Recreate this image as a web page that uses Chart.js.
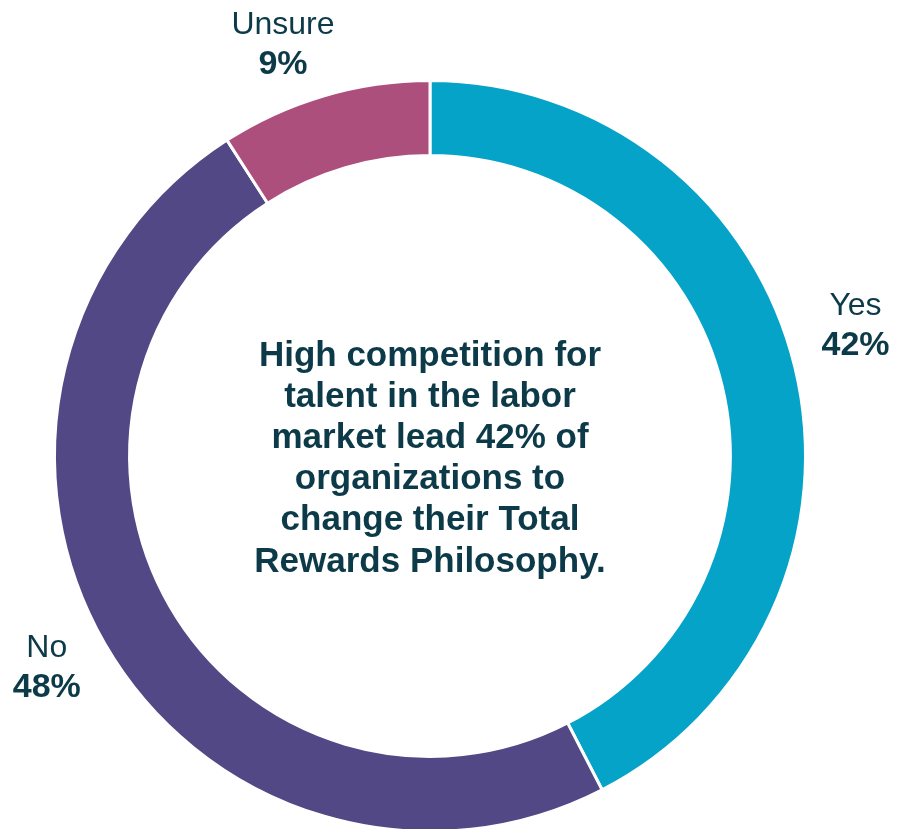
<!DOCTYPE html>
<html>
<head>
<meta charset="utf-8">
<script src="https://cdn.jsdelivr.net/npm/chart.js@4/dist/chart.umd.min.js"></script>
<style>
  html, body { margin: 0; padding: 0; background: #fff; overflow: hidden; }
  #wrap { position: relative; width: 900px; height: 912px; }
</style>
</head>
<body>
<div id="wrap"><canvas id="rewardsChart" width="900" height="912"></canvas></div>
<script>
const categories = ['Yes', 'No', 'Unsure'];
const shares = [42, 48, 9];
const sliceColors = ['#05A3C7', '#534886', '#AD4F7D'];
const centerLines = [
  'High competition for',
  'talent in the labor',
  'market lead 42% of',
  'organizations to',
  'change their Total',
  'Rewards Philosophy.'
];

const textColor = '#0C3A48';
const fontFamily = '"Liberation Sans", Arial, sans-serif';

// per-slice nudge of the outside label: [extra radius, extra angle in degrees]
const labelNudge = [[0, -2.3], [0, 0], [-14, -3.7]];

const sliceLabels = {
  id: 'sliceLabels',
  afterDraw(chart) {
    const { ctx } = chart;
    const meta = chart.getDatasetMeta(0);
    ctx.save();
    ctx.fillStyle = textColor;
    ctx.textAlign = 'center';
    ctx.textBaseline = 'alphabetic';

    meta.data.forEach((arc, i) => {
      const { x, y, startAngle, endAngle, outerRadius } = arc.getProps(['x', 'y', 'startAngle', 'endAngle', 'outerRadius'], true);
      const mid = (startAngle + endAngle) / 2 + labelNudge[i][1] * Math.PI / 180;
      const r = outerRadius + 67 + labelNudge[i][0];
      const lx = x + Math.cos(mid) * r;
      const ly = y + Math.sin(mid) * r;
      ctx.font = '32px ' + fontFamily;
      ctx.fillText(categories[i], lx, ly - 20);
      ctx.font = 'bold 34px ' + fontFamily;
      ctx.fillText(shares[i] + '%', lx, ly + 20);
    });

    // headline in the hole
    const cx = meta.data[0].x;
    const cy = meta.data[0].y;
    const lineH = 41.2;
    ctx.font = 'bold 35px ' + fontFamily;
    centerLines.forEach((line, i) => {
      ctx.fillText(line, cx, cy + (i - (centerLines.length - 1) / 2) * lineH + 12.5);
    });
    ctx.restore();
  }
};

new Chart(document.getElementById('rewardsChart'), {
  type: 'doughnut',
  data: {
    labels: categories,
    datasets: [{
      data: shares,
      backgroundColor: sliceColors,
      borderColor: '#ffffff',
      borderWidth: 3,
      cutout: '80%'
    }]
  },
  options: {
    responsive: false,
    animation: false,
    layout: {
      padding: { left: 53, top: 79, right: 93, bottom: 79 }
    },
    plugins: {
      legend: { display: false },
      tooltip: { enabled: false }
    }
  },
  plugins: [sliceLabels]
});
</script>
</body>
</html>
